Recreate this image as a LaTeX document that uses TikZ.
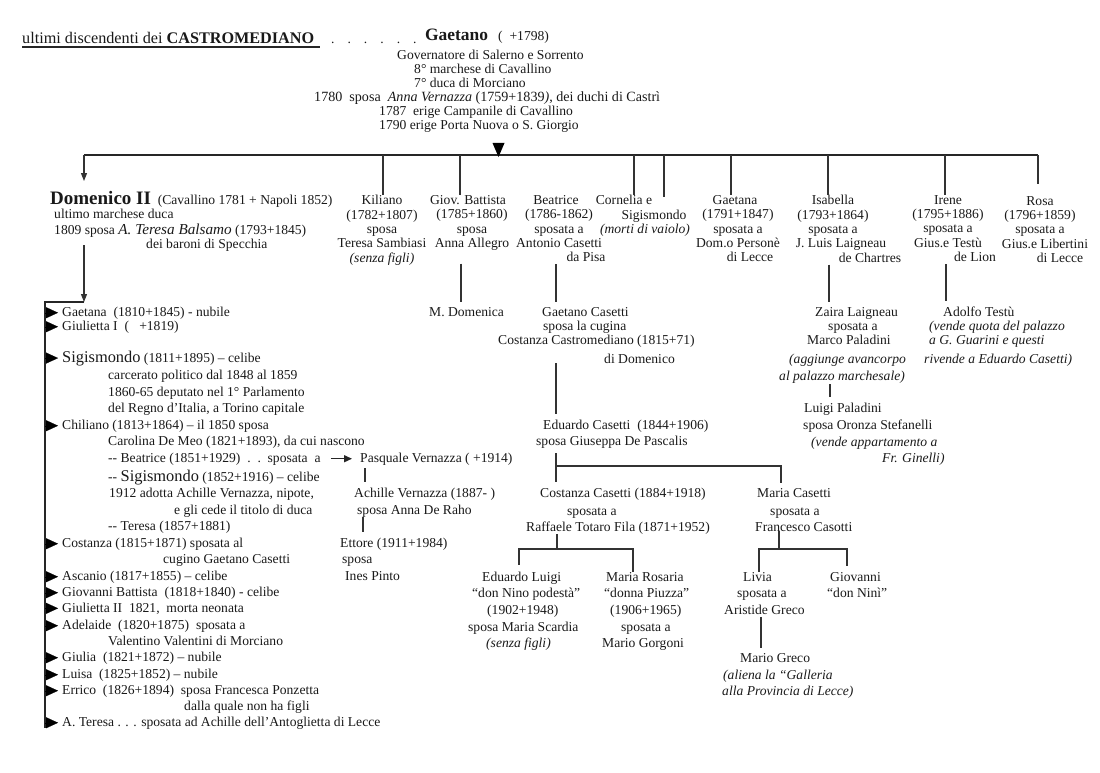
\documentclass[tikz,border=0pt]{standalone}
\usepackage{fontspec}
\setmainfont{Liberation Serif}
\usetikzlibrary{arrows.meta,positioning}

\newcommand{\bigname}[1]{{\fontsize{16.4}{16}\selectfont #1}}

\tikzset{
    pers/.style={inner sep=0pt, align=center, anchor=north, text=black!90, font=\fontsize{13.6}{14.4}\selectfont},
    txt/.style={inner sep=0pt, anchor=base west, text=black!90, font=\fontsize{13.6}{14.4}\selectfont},
    itxt/.style={txt, font=\fontsize{13.6}{14.4}\selectfont\itshape},
    link/.style={draw=black!80, line width=1.1pt},
    bus/.style={draw=black!85, line width=1.4pt},
    down/.style={link, -{Triangle[length=8pt,width=6pt]}},
    tick/.style={line width=0.1pt, -{Triangle[length=12pt,width=11pt]}, shorten >=4pt},
}

\begin{document}
\begin{tikzpicture}[x=1pt,y=-1pt]
    \useasboundingbox (0,0) rectangle (1100,773);

    % heading
    \node[txt, font=\fontsize{16.2}{17}\selectfont] at (22,44)(title){ultimi discendenti dei \textbf{CASTROMEDIANO}};
    \node[txt] at (331,44)(dots){.\hspace{13pt}.\hspace{13pt}.\hspace{13pt}.\hspace{13pt}.\hspace{13pt}.};
    \node[txt] at (425,41)(gaetano){{\fontsize{17.4}{18}\selectfont\textbf{Gaetano}}\ \ \ (\ \ +1798)};
    \node[txt] at (397,60)(gov){Governatore di Salerno e Sorrento};
    \node[txt] at (414,74)(march){8° marchese di Cavallino};
    \node[txt] at (414,88)(duca){7° duca di Morciano};
    \node[txt, font=\fontsize{14.1}{14.4}\selectfont] at (314,102)(sposa){1780\ \ sposa\ \ \textit{Anna Vernazza} (1759+1839\textit{)}, dei duchi di Castrì};
    \node[txt] at (379,116)(camp){1787\ \ erige Campanile di Cavallino};
    \node[txt] at (379,130)(porta){1790 erige Porta Nuova o S. Giorgio};
    \coordinate (ulA) at (22,47);
    \coordinate (ulB) at (320,47);
    \draw[bus] (ulA) -- (ulB);

    % first row
    \coordinate (busL) at (84,155);
    \coordinate (busR) at (1038,155);
    \coordinate (headA) at (492.5,143);
    \coordinate (headB) at (504.5,143);
    \coordinate (headC) at (498.5,157);
    \draw[bus] (busL) -- (busR);
    \fill (headA) -- (headB) -- (headC) -- cycle;

    \node[txt] at (50,204)(domenico){{\fontsize{19}{20}\selectfont\textbf{Domenico II}}\ \ (Cavallino 1781 + Napoli 1852)};
    \node[txt] at (54,218)(ultimo){ultimo marchese duca};
    \node[txt] at (54,234)(teresa){1809 sposa {\fontsize{15.2}{15}\selectfont\textit{A. Teresa Balsamo}} (1793+1845)};
    \node[txt] at (146,248)(baroni){dei baroni di Specchia};

    \node[pers] at (382,195)(kiliano){Kiliano\\(1782+1807)\\sposa\\Teresa Sambiasi\\\textit{(senza figli)}};
    \node[pers] at (472,195)(giovbatt){Giov. Battista\hspace*{8pt}\\(1785+1860)\\sposa\hspace*{6pt}\\Anna Allegro};
    \node[pers] at (559,195)(beatrice){Beatrice\hspace*{6pt}\\(1786-1862)\\sposata a\\Antonio Casetti\\\hspace*{54pt}da Pisa};
    \node[pers] at (645,195)(cornelia){Cornelia e\hspace*{42pt}\\\hspace*{18pt}Sigismondo\\\textit{(morti di vaiolo)}};
    \node[pers] at (738,195)(gaetana){Gaetana\hspace*{6pt}\\(1791+1847)\\sposata a\\Dom.o Personè\\\hspace*{24pt}di Lecce};
    \node[pers] at (833,195)(isabella){Isabella\\(1793+1864)\\sposata a\\\hspace*{16pt}J. Luis Laigneau\\\hspace*{74pt}de Chartres};
    \node[pers] at (948,195)(irene){Irene\\(1795+1886)\\sposata a\\Gius.e Testù\\\hspace*{54pt}de Lion};
    \node[pers] at (1040,196)(rosa){Rosa\\(1796+1859)\\sposata a\\\hspace*{10pt}Gius.e Libertini\\\hspace*{40pt}di Lecce};

    \coordinate (busKil) at (383,155);
    \coordinate (busGio) at (460,155);
    \coordinate (busCor) at (634,155);
    \coordinate (busSig) at (664,155);
    \coordinate (busGae) at (731,155);
    \coordinate (busIsa) at (828,155);
    \coordinate (busIre) at (945,155);
    \coordinate (domTip) at (84,181);

    \draw[down] (busL) -- (domTip);
    \path[link, draw, shorten >=12pt]
        (busKil) -- (busKil |- kiliano.north)
        (busGio) -- (busGio |- giovbatt.north)
        (busCor) -- (busCor |- cornelia.north)
        (busGae) -- (busGae |- gaetana.north)
        (busIsa) -- (busIsa |- isabella.north)
        (busIre) -- (busIre |- irene.north)
        (busR) -- (busR |- rosa.north);
    \draw[link, shorten >=-2pt] (busSig) -- (busSig |- cornelia.north);

    % children of Domenico
    \node[txt] at (62,316)(cGaetana){Gaetana\ \ (1810+1845) - nubile};
    \node[txt] at (62,330)(cGiulietta){Giulietta I\ \ (\ \ \ +1819)};
    \node[txt] at (62,362)(cSigismondo){\bigname{Sigismondo} (1811+1895) – celibe};
    \node[txt] at (108,379)(sigA){carcerato politico dal 1848 al 1859};
    \node[txt] at (108,396)(sigB){1860-65 deputato nel 1° Parlamento};
    \node[txt] at (108,412)(sigC){del Regno d’Italia, a Torino capitale};
    \node[txt] at (62,429)(cChiliano){Chiliano (1813+1864) – il 1850 sposa};
    \node[txt] at (108,445)(chilA){Carolina De Meo (1821+1893), da cui nascono};
    \node[txt] at (108,462)(chilB){-{}- Beatrice (1851+1929)\ \ .\ \ .\ \ sposata\ \ a};
    \node[txt] at (108,481)(chilC){-{}- \bigname{Sigismondo} (1852+1916) – celibe};
    \node[txt] at (109,497)(chilD){1912 adotta Achille Vernazza, nipote,};
    \node[txt] at (174,514)(chilE){e gli cede il titolo di duca};
    \node[txt] at (108,530)(chilF){-{}- Teresa (1857+1881)};
    \node[txt] at (62,547)(cCostanza){Costanza (1815+1871) sposata al};
    \node[txt] at (163,563)(costA){cugino Gaetano Casetti};
    \node[txt] at (62,580)(cAscanio){Ascanio (1817+1855) – celibe};
    \node[txt] at (62,596)(cGiovanni){Giovanni Battista\ \ (1818+1840) - celibe};
    \node[txt] at (62,612)(cGiuliettaB){Giulietta II\ \ 1821,\ \ morta neonata};
    \node[txt] at (62,629)(cAdelaide){Adelaide\ \ (1820+1875)\ \ sposata a};
    \node[txt] at (108,645)(adelA){Valentino Valentini di Morciano};
    \node[txt] at (62,661)(cGiulia){Giulia\ \ (1821+1872) – nubile};
    \node[txt] at (62,678)(cLuisa){Luisa\ \ (1825+1852) – nubile};
    \node[txt] at (62,694)(cErrico){Errico\ \ (1826+1894)\ \ sposa Francesca Ponzetta};
    \node[txt] at (184,710)(erriA){dalla quale non ha figli};
    \node[txt] at (62,726)(cTeresa){A. Teresa . . . sposata ad Achille dell’Antoglietta di Lecce};

    \coordinate (stemTop) at (84,245);
    \coordinate (stemEnd) at (84,302);
    \coordinate (trunkTop) at (45,302);
    \coordinate (trunkEnd) at (45,728);
    \draw[down] (stemTop) -- (stemEnd);
    \draw[bus] (stemEnd) -- (trunkTop) -- (trunkEnd);
    \foreach \kid in {cGaetana,cGiulietta,cSigismondo,cChiliano,cCostanza,cAscanio,cGiovanni,cGiuliettaB,cAdelaide,cGiulia,cLuisa,cErrico,cTeresa}
        \draw[tick] (trunkTop |- \kid.west) -- (\kid.west);

    % Vernazza
    \node[txt] at (360,462)(pasquale){Pasquale Vernazza ( +1914)};
    \node[txt] at (354,497)(achille){Achille Vernazza (1887- )};
    \node[txt] at (357,514)(anna){sposa Anna De Raho};
    \node[txt] at (340,547)(ettore){Ettore (1911+1984)};
    \node[txt] at (342,563)(ettA){sposa};
    \node[txt] at (345,580)(ines){Ines Pinto};
    \coordinate (xPas) at (365,0);
    \coordinate (xAch) at (363,0);
    \draw[bus, -{Triangle[length=8pt,width=7pt]}, shorten <=10pt, shorten >=8pt] (chilB.east) -- (pasquale.west |- chilB.east);
    \draw[link, shorten <=3pt, shorten >=5pt] (xPas |- pasquale.south) -- (xPas |- achille.north);
    \draw[link, shorten >=5pt] (xAch |- anna.south) -- (xAch |- ettore.north);

    % Giovanni Battista, Beatrice
    \node[txt] at (429,316)(mdomenica){M. Domenica};
    \node[txt] at (542,316)(gcasetti){Gaetano Casetti};
    \node[txt] at (543,330)(gcA){sposa la cugina};
    \node[txt] at (498,344)(gcB){Costanza Castromediano (1815+71)};
    \node[txt] at (604,363)(gcC){di Domenico};
    \node[txt] at (543,429)(eduardo){Eduardo Casetti\ \ (1844+1906)};
    \node[txt] at (536,445)(edA){sposa Giuseppa De Pascalis};
    \coordinate (xGio) at (461,0);
    \coordinate (xBea) at (556,0);
    \draw[link, shorten <=13pt, shorten >=5pt] (xGio |- giovbatt.south) -- (xGio |- mdomenica.north);
    \draw[link, shorten <=2pt, shorten >=5pt] (xBea |- beatrice.south) -- (xBea |- gcasetti.north);
    \draw[link, shorten >=5pt] (xBea |- gcC.south) -- (xBea |- eduardo.north);

    % Isabella, Irene
    \node[txt] at (815,316)(zaira){Zaira Laigneau};
    \node[txt] at (828,330)(zaA){sposata a};
    \node[txt] at (807,344)(zaB){Marco Paladini};
    \node[itxt] at (789,363)(zaC){(aggiunge avancorpo};
    \node[itxt] at (779,380)(zaD){al palazzo marchesale)};
    \node[txt] at (804,412)(luigi){Luigi Paladini};
    \node[txt] at (803,429)(luA){sposa Oronza Stefanelli};
    \node[itxt] at (811,446)(luB){(vende appartamento a};
    \node[itxt] at (882,462)(luC){Fr. Ginelli)};
    \node[txt] at (943,316)(adolfo){Adolfo Testù};
    \node[itxt] at (929,330)(adA){(vende quota del palazzo};
    \node[itxt] at (929,344)(adB){a G. Guarini e questi};
    \node[itxt] at (924,363)(adC){rivende a Eduardo Casetti)};
    \coordinate (xIsa) at (829,0);
    \coordinate (xIre) at (946,0);
    \coordinate (xLui) at (830,0);
    \draw[link, shorten <=2pt, shorten >=5pt] (xIsa |- isabella.south) -- (xIsa |- zaira.north);
    \draw[link, shorten <=2pt, shorten >=5pt] (xIre |- irene.south) -- (xIre |- adolfo.north);
    \draw[link, shorten <=1pt, shorten >=5pt] (xLui |- zaD.south) -- (xLui |- luigi.north);

    % Costanza Casetti, Maria Casetti
    \node[txt] at (540,497)(ccasetti){Costanza Casetti (1884+1918)};
    \node[txt] at (567,515)(ccA){sposata a};
    \node[txt] at (526,531)(ccB){Raffaele Totaro Fila (1871+1952)};
    \node[txt] at (757,497)(mcasetti){Maria Casetti};
    \node[txt] at (770,515)(mcA){sposata a};
    \node[txt] at (755,531)(mcB){Francesco Casotti};
    \coordinate (barEd) at (556,466);
    \coordinate (barEdR) at (781,466);
    \draw[link, shorten <=5pt, shorten >=5pt] (xBea |- edA.south) -- (xBea |- ccasetti.north);
    \draw[link, shorten >=5pt] (barEd) -- (barEdR) -- (barEdR |- mcasetti.north);

    \node[txt] at (482,581)(luigiE){Eduardo Luigi};
    \node[txt] at (472,597)(leA){“don Nino podestà”};
    \node[txt] at (487,614)(leB){(1902+1948)};
    \node[txt] at (468,631)(leC){sposa Maria Scardia};
    \node[txt] at (486,647)(leD){\textit{(senza figli)}};
    \node[txt] at (606,581)(rosaria){Maria Rosaria};
    \node[txt] at (604,597)(roA){“donna Piuzza”};
    \node[txt] at (610,614)(roB){(1906+1965)};
    \node[txt] at (621,631)(roC){sposata a};
    \node[txt] at (602,647)(roD){Mario Gorgoni};
    \coordinate (barCc) at (557,549);
    \coordinate (barCcL) at (519,549);
    \coordinate (barCcR) at (633,549);
    \draw[link] (barCc |- ccB.south) -- (barCc);
    \draw[link, shorten >=6pt] (barCcR |- rosaria.north) -- (barCcR) -- (barCcL) -- (barCcL |- luigiE.north);

    \node[txt] at (743,581)(livia){Livia};
    \node[txt] at (737,597)(liA){sposata a};
    \node[txt] at (724,614)(liB){Aristide Greco};
    \node[txt] at (830,581)(giovanni){Giovanni};
    \node[txt] at (827,597)(giA){“don Ninì”};
    \node[txt] at (740,662)(mgreco){Mario Greco};
    \node[txt] at (723,679)(mgA){\textit{(aliena la “Galleria}};
    \node[txt] at (722,695)(mgB){\textit{alla Provincia di Lecce)}};
    \coordinate (barMc) at (779,549);
    \coordinate (barMcL) at (759,549);
    \coordinate (barMcR) at (847,549);
    \coordinate (xLiv) at (761,0);
    \draw[link] (barMc |- mcB.south) -- (barMc);
    \draw[link, shorten >=6pt] (barMcL |- livia.north) -- (barMcL) -- (barMcR) -- (barMcR |- giovanni.north);
    \draw[link, shorten <=3pt, shorten >=5pt] (xLiv |- liB.south) -- (xLiv |- mgreco.north);
\end{tikzpicture}
\end{document}
